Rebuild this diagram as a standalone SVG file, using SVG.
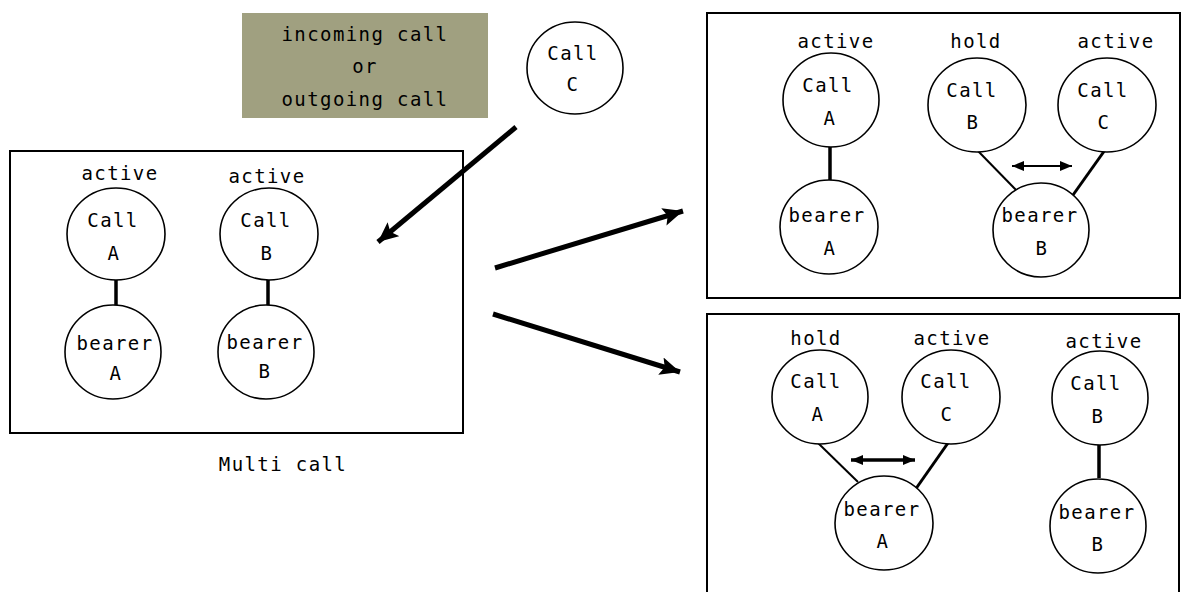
<svg xmlns="http://www.w3.org/2000/svg" width="1182" height="592" viewBox="0 0 1182 592">
<style>
  text { font-family: "DejaVu Sans Mono", "Liberation Mono", monospace; font-size: 19px; letter-spacing: 1.4px; fill: #000; text-anchor: middle; }
  .node ellipse { fill: #fff; stroke: #000; stroke-width: 1.6; }
  .frame { fill: none; stroke: #000; stroke-width: 2; }
  .big { stroke: #000; stroke-width: 5; fill: none; }
  .link { stroke: #000; fill: none; }
</style>
<defs>
  <marker id="bigHead" markerUnits="userSpaceOnUse" markerWidth="24" markerHeight="20" refX="20" refY="9" orient="auto">
    <path d="M0,0 L20,9 L0,18 L4,9 Z" fill="#000"/>
  </marker>
  <marker id="smallEnd" markerUnits="userSpaceOnUse" markerWidth="14" markerHeight="12" refX="12" refY="5" orient="auto">
    <path d="M0,0 L12,5 L0,10 Z" fill="#000"/>
  </marker>
  <marker id="smallStart" markerUnits="userSpaceOnUse" markerWidth="14" markerHeight="12" refX="0" refY="5" orient="auto">
    <path d="M12,0 L0,5 L12,10 Z" fill="#000"/>
  </marker>
</defs>

<rect id="frame-multi" class="frame" x="10" y="151" width="453" height="282"/>
<rect id="frame-top" class="frame" x="707" y="13" width="473" height="285"/>
<rect id="frame-bottom" class="frame" x="707" y="314" width="472" height="290"/>

<g id="note">
  <rect x="242" y="13" width="246" height="105" fill="#a0a080"/>
  <text x="365" y="41">incoming call</text>
  <text x="365" y="73">or</text>
  <text x="365" y="106">outgoing call</text>
</g>

<text id="label-multi" x="283" y="471">Multi call</text>

<g id="connectors">
  <line class="big" x1="516" y1="127" x2="378" y2="242" marker-end="url(#bigHead)"/>
  <line class="big" x1="495" y1="268" x2="683" y2="211" marker-end="url(#bigHead)"/>
  <line class="big" x1="493" y1="314" x2="680" y2="372" marker-end="url(#bigHead)"/>
  <line class="link" stroke-width="3.5" x1="116" y1="280" x2="116" y2="305"/>
  <line class="link" stroke-width="3.5" x1="268" y1="280" x2="268" y2="305"/>
  <line class="link" stroke-width="3.5" x1="830" y1="147" x2="830" y2="180"/>
  <line class="link" stroke-width="2" x1="978" y1="151" x2="1018" y2="192"/>
  <line class="link" stroke-width="3" x1="1105" y1="150" x2="1073" y2="195"/>
  <line class="link" stroke-width="2" x1="1012" y1="166" x2="1072" y2="166" marker-start="url(#smallStart)" marker-end="url(#smallEnd)"/>
  <line class="link" stroke-width="2" x1="818" y1="443" x2="858" y2="482"/>
  <line class="link" stroke-width="3" x1="948" y1="443" x2="915" y2="490"/>
  <line class="link" stroke-width="3.5" x1="851" y1="460" x2="915" y2="460" marker-start="url(#smallStart)" marker-end="url(#smallEnd)"/>
  <line class="link" stroke-width="3.5" x1="1099" y1="445" x2="1099" y2="478"/>
</g>

<g id="callC-new" class="node">
  <ellipse cx="575" cy="68" rx="48" ry="46"/>
  <text x="573" y="60">Call</text>
  <text x="573" y="91">C</text>
</g>

<!-- Multi call -->
<g id="m-callA" class="node">
  <text x="120" y="180">active</text>
  <ellipse cx="116" cy="234" rx="49" ry="46"/>
  <text x="113" y="227">Call</text>
  <text x="114" y="260">A</text>
</g>
<g id="m-callB" class="node">
  <text x="267" y="183">active</text>
  <ellipse cx="269" cy="234" rx="49" ry="46"/>
  <text x="266" y="227">Call</text>
  <text x="267" y="260">B</text>
</g>
<g id="m-bearerA" class="node">
  <ellipse cx="113" cy="352" rx="48" ry="47"/>
  <text x="115" y="350">bearer</text>
  <text x="116" y="380">A</text>
</g>
<g id="m-bearerB" class="node">
  <ellipse cx="266" cy="352" rx="48" ry="47"/>
  <text x="265" y="349">bearer</text>
  <text x="265" y="378">B</text>
</g>

<!-- Top-right -->
<g id="t-callA" class="node">
  <text x="836" y="48">active</text>
  <ellipse cx="831" cy="100" rx="48" ry="47"/>
  <text x="828" y="92">Call</text>
  <text x="830" y="125">A</text>
</g>
<g id="t-callB" class="node">
  <text x="976" y="48">hold</text>
  <ellipse cx="977" cy="105" rx="49" ry="47"/>
  <text x="972" y="97">Call</text>
  <text x="973" y="129">B</text>
</g>
<g id="t-callC" class="node">
  <text x="1116" y="48">active</text>
  <ellipse cx="1107" cy="105" rx="49" ry="47"/>
  <text x="1103" y="97">Call</text>
  <text x="1104" y="129">C</text>
</g>
<g id="t-bearerA" class="node">
  <ellipse cx="829" cy="227" rx="49" ry="47"/>
  <text x="827" y="222">bearer</text>
  <text x="830" y="255">A</text>
</g>
<g id="t-bearerB" class="node">
  <ellipse cx="1041" cy="230" rx="48" ry="47"/>
  <text x="1040" y="222">bearer</text>
  <text x="1042" y="255">B</text>
</g>

<!-- Bottom-right -->
<g id="b-callA" class="node">
  <text x="816" y="345">hold</text>
  <ellipse cx="820" cy="397" rx="48" ry="47"/>
  <text x="816" y="388">Call</text>
  <text x="818" y="421">A</text>
</g>
<g id="b-callC" class="node">
  <text x="952" y="345">active</text>
  <ellipse cx="951" cy="397" rx="49" ry="47"/>
  <text x="946" y="388">Call</text>
  <text x="947" y="421">C</text>
</g>
<g id="b-callB" class="node">
  <text x="1104" y="348">active</text>
  <ellipse cx="1100" cy="398" rx="48" ry="47"/>
  <text x="1096" y="390">Call</text>
  <text x="1098" y="423">B</text>
</g>
<g id="b-bearerA" class="node">
  <ellipse cx="884" cy="523" rx="49" ry="47"/>
  <text x="882" y="516">bearer</text>
  <text x="883" y="548">A</text>
</g>
<g id="b-bearerB" class="node">
  <ellipse cx="1098" cy="526" rx="48" ry="47"/>
  <text x="1097" y="519">bearer</text>
  <text x="1098" y="551">B</text>
</g>
</svg>
